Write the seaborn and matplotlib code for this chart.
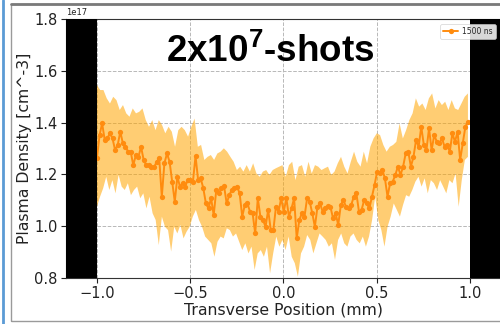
import numpy as np
import pandas as pd
import matplotlib
matplotlib.use("Agg")
import matplotlib.pyplot as plt
from matplotlib.lines import Line2D
from matplotlib.patches import Rectangle
import seaborn as sns

# Mean plasma density profile (units of 1e17 cm^-3) across the transverse position
density_mean = [
    1.262, 1.352, 1.397, 1.333, 1.339, 1.359, 1.339, 1.294, 1.314, 1.365, 1.320, 1.307,
    1.288, 1.288, 1.236, 1.275, 1.268, 1.307, 1.256, 1.236, 1.236, 1.227, 1.227, 1.249,
    1.262, 1.114, 1.243, 1.281, 1.249, 1.172, 1.095, 1.191, 1.153, 1.166, 1.153, 1.178,
    1.178, 1.172, 1.271, 1.178, 1.185, 1.146, 1.088, 1.069, 1.108, 1.043, 1.140, 1.127,
    1.146, 1.155, 1.088, 1.120, 1.140, 1.146, 1.153, 1.127, 1.037, 1.082, 1.088, 1.056,
    1.050, 0.972, 1.108, 1.037, 1.024, 0.998, 1.063, 0.985, 0.985, 1.075, 1.056, 1.108,
    1.056, 1.108, 1.037, 1.069, 1.108, 0.953, 1.024, 1.050, 1.037, 1.108, 1.095, 1.050,
    0.998, 1.075, 1.088, 1.056, 1.069, 1.078, 1.075, 1.030, 1.050, 1.005, 1.082, 1.101,
    1.075, 1.069, 1.082, 1.114, 1.127, 1.056, 1.063, 1.101, 1.088, 1.069, 1.114, 1.159,
    1.211,
    1.204, 1.217, 1.185, 1.114, 1.166, 1.172, 1.198, 1.230, 1.198, 1.230, 1.281, 1.288,
    1.230, 1.268, 1.333, 1.307, 1.384, 1.314, 1.294, 1.378, 1.294, 1.352, 1.326, 1.320,
    1.339, 1.307, 1.314, 1.288, 1.359, 1.326, 1.365, 1.256, 1.320, 1.384, 1.404,
]

# Upper edge of the shot-to-shot spread
density_upper = [
    1.545, 1.526, 1.526, 1.494, 1.474, 1.500, 1.487, 1.449, 1.468, 1.436, 1.423, 1.455,
    1.436, 1.442, 1.455, 1.410, 1.384, 1.410, 1.371, 1.410, 1.391, 1.359, 1.384, 1.365,
    1.307, 1.371, 1.384, 1.371,
    1.346, 1.384, 1.416, 1.307, 1.314, 1.256, 1.268, 1.275, 1.256, 1.281, 1.288, 1.301,
    1.288, 1.268, 1.249, 1.217, 1.230, 1.211, 1.236, 1.211, 1.243, 1.204, 1.191, 1.211,
    1.217, 1.198, 1.217, 1.224,
    1.230, 1.236, 1.191, 1.236, 1.249, 1.178, 1.230, 1.236, 1.191, 1.249, 1.204, 1.236,
    1.230, 1.217, 1.224, 1.230, 1.198, 1.211, 1.243, 1.268, 1.230, 1.204, 1.249, 1.288,
    1.249, 1.230, 1.288, 1.243, 1.307, 1.339, 1.359,
    1.352, 1.314, 1.288, 1.307, 1.314, 1.326, 1.397, 1.339, 1.371, 1.410, 1.436, 1.494,
    1.462, 1.474, 1.449, 1.494, 1.513, 1.455, 1.487, 1.468, 1.481, 1.449, 1.487, 1.455,
    1.449, 1.474, 1.500, 1.513,
]

# Lower edge of the shot-to-shot spread
density_lower = [
    1.075, 1.114, 1.146, 1.191, 1.140, 1.178, 1.127, 1.198, 1.153, 1.140, 1.166, 1.120,
    1.140, 1.153, 1.108, 1.127, 1.069, 1.114, 1.050, 1.024, 0.927, 1.037, 0.998, 0.985,
    0.902, 0.998, 0.972, 1.005, 0.953, 0.979,
    0.998, 1.037, 1.063, 1.024, 0.998, 0.960, 0.947, 0.934, 0.882, 0.940, 0.960, 0.953,
    0.992, 0.985, 0.960, 0.972, 0.940, 0.908, 0.934, 0.895, 0.921, 0.831, 0.895, 0.908,
    0.882, 0.921, 0.818, 0.895, 0.960, 0.921,
    0.947, 0.908, 0.960, 0.882, 0.857, 0.805, 0.895, 0.921, 0.966, 0.947, 0.895, 0.934,
    0.972, 0.960, 0.947, 0.921, 0.934, 0.870, 0.947, 0.972, 0.934, 0.921, 0.960, 0.972,
    0.947, 0.934, 0.960, 0.921, 0.960, 1.024, 1.114,
    1.024, 0.985, 0.921, 0.998, 1.037, 1.088, 1.063, 1.037, 1.082, 1.120, 1.114, 1.140,
    1.172, 1.191, 1.153, 1.185, 1.127, 1.178, 1.166, 1.140, 1.178, 1.153, 1.127, 1.178,
    1.166, 1.204, 1.075, 1.178, 1.256, 1.268,
]

x_start, x_end = -1.0, 0.99
scale = 1e17
series_label = "1500 ns"
title_text = r"2x10$^{\mathbf{7}}$-shots"
x_label = "Transverse Position (mm)"
y_label = "Plasma Density [cm^-3]"
x_ticks = [-1.0, -0.5, 0.0, 0.5, 1.0]
y_ticks = [0.8, 1.0, 1.2, 1.4, 1.6, 1.8]

pos_mean = np.linspace(x_start, x_end, len(density_mean))
pos_upper = np.linspace(x_start, x_end, len(density_upper))
pos_lower = np.linspace(x_start, x_end, len(density_lower))

df = pd.DataFrame({"pos": pos_mean, "density": np.array(density_mean) * scale})

sns.set_style("ticks")
plt.rcParams["font.family"] = ["DejaVu Sans"]
plt.rcParams["mathtext.fontset"] = "custom"
plt.rcParams["mathtext.bf"] = "Liberation Sans:bold"
plt.rcParams["mathtext.rm"] = "Liberation Sans"

fig = plt.figure(figsize=(5.0, 3.24), dpi=100)
ax = fig.add_axes([0.132, 0.142, 0.871, 0.799])

# shaded spread band
band_x = np.concatenate([pos_upper, pos_lower[::-1]])
band_y = np.concatenate([np.array(density_upper), np.array(density_lower)[::-1]]) * scale
ax.fill(band_x, band_y, color="#ffa500", alpha=0.55, lw=0, zorder=2)

sns.lineplot(data=df, x="pos", y="density", ax=ax, color="#ff8c0f", lw=1.4,
             marker="o", markersize=3.8, markeredgewidth=0, label=series_label, zorder=3)

# blocked regions outside the channel
ax.axvspan(-1.17, -1.0, color="black", zorder=4, lw=0)
ax.axvspan(1.0, 1.17, color="black", zorder=4, lw=0)

ax.set_xlim(-1.166, 1.17)
ax.set_ylim(0.8 * scale, 1.8 * scale)
ax.set_xticks(x_ticks)
ax.set_yticks([v * scale for v in y_ticks])
ax.tick_params(labelsize=10.5, length=3.5, width=0.8, colors="#222222", pad=2.5)
ax.yaxis.get_offset_text().set_fontsize(6)
ax.grid(True, ls="--", color="#b8b8b8", lw=0.7, zorder=0)
ax.set_axisbelow(True)
ax.set_xlabel(x_label, fontsize=11.3, color="#222222", labelpad=1)
ax.set_ylabel(y_label, fontsize=11.3, color="#222222", labelpad=2)
for sp in ax.spines.values():
    sp.set_linewidth(0.8)
    sp.set_color("#333333")

ax.text(-0.07, 1.673 * scale, title_text, ha="center", va="center", fontsize=26.5,
        fontweight="bold", family="Liberation Sans", color="black", zorder=6)

leg = ax.legend(loc="upper right", fontsize=5.5, frameon=True, framealpha=0.85,
                handlelength=2.0, borderpad=0.35, handletextpad=0.5,
                bbox_to_anchor=(0.995, 0.995))
leg.get_frame().set_linewidth(0.5)
leg.set_zorder(7)

# surrounding panel frame
fig.add_artist(Line2D([0.006, 0.006], [0.0, 1.0], transform=fig.transFigure,
                      color="#5b9bd5", lw=2.0))
fig.add_artist(Rectangle((0.021, 0.01), 1.0, 0.978, transform=fig.transFigure,
                         fill=False, edgecolor="#9a9a9a", lw=1.0))
fig.add_artist(Line2D([0.021, 1.0], [0.988, 0.988], transform=fig.transFigure,
                      color="#7a7a7a", lw=2.0))

fig.savefig("out.png", dpi=100)
